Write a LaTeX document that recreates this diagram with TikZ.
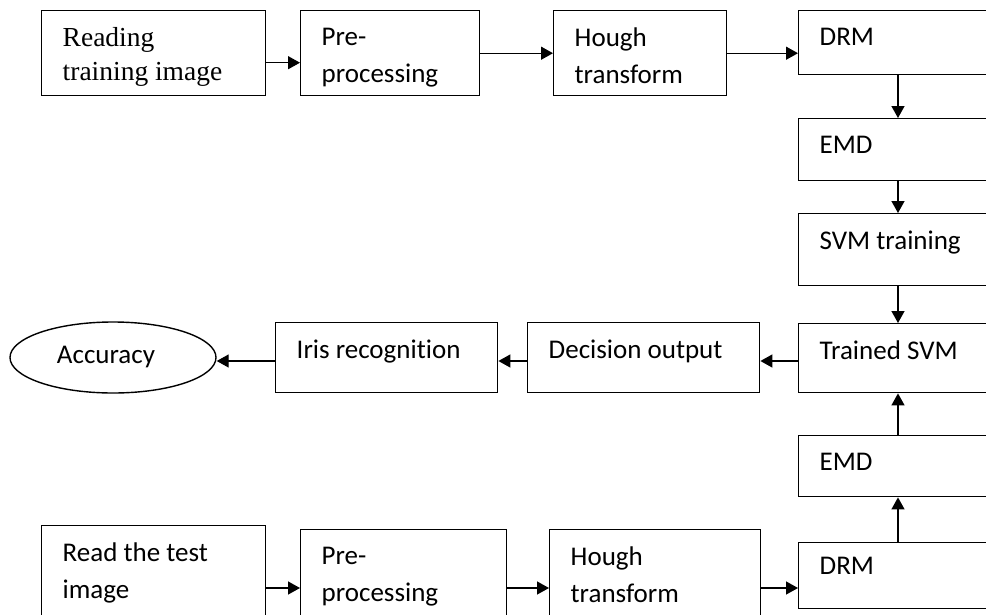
\documentclass[tikz,border=0pt]{standalone}
\usepackage{fontspec}
\setmainfont{Carlito}[Ligatures = NoCommon]
\newfontfamily\serifrm{Liberation Serif}
\usetikzlibrary{arrows.meta,shapes.geometric}
\newcommand{\boxtxt}[4][17pt]{\parbox[t][#3][t]{#2}{\raggedright\leftskip=21pt\vspace*{#1}#4}}
\begin{document}
\begin{tikzpicture}[x = 1pt, y = -1pt, line width = 1.4pt, > = {Triangle[length = 12pt, width = 13pt]}, blk/.style = { draw, anchor = north west, inner sep = 0pt, font = \fontsize{27}{37}\selectfont }]
	\path[use as bounding box, clip] (0,0) rectangle (986,614);
	\node[blk, font = \serifrm\fontsize{27.5}{34}\selectfont] (read1) at (41,10) {\boxtxt{224pt}{85pt}{Reading\\training image}};
	\node[blk] (pre1) at (300,10) {\boxtxt{179pt}{85pt}{Pre-\\processing}};
	\node[blk] (hough1) at (553,10) {\boxtxt{173pt}{85pt}{Hough\\transform}};
	\node[blk] (drm1) at (798,10) {\boxtxt{200pt}{64pt}{DRM}};
	\node[blk] (emd1) at (798,118) {\boxtxt{200pt}{62pt}{EMD}};
	\node[blk] (svmtr) at (798,213) {\boxtxt{200pt}{72pt}{SVM training}};
	\node[blk] (trsvm) at (798,323) {\boxtxt{200pt}{69pt}{Trained SVM}};
	\node[blk] (emd2) at (798,435) {\boxtxt{200pt}{61pt}{EMD}};
	\node[blk] (drm2) at (798,542) {\boxtxt[14pt]{200pt}{66pt}{DRM}};
	\node[blk] (dec) at (527,322) {\boxtxt{232pt}{70pt}{Decision output}};
	\node[blk] (iris) at (275,322) {\boxtxt{222pt}{70pt}{Iris recognition}};
	\node[draw, ellipse, minimum width = 206pt, minimum height = 71pt, inner sep = 0pt, font = \fontsize{27}{37}\selectfont] (acc) at (113,357.5) {Accuracy\hspace*{14pt}};
	\node[blk] (read2) at (41,525) {\boxtxt{224pt}{110pt}{Read the test\\image}};
	\node[blk] (pre2) at (300,529) {\boxtxt{206pt}{110pt}{Pre-\\processing}};
	\node[blk] (hough2) at (549,529) {\boxtxt{211pt}{110pt}{Hough\\transform}};
	\coordinate (colx) at (898,0);
	\coordinate (midrow) at (0,361);
	\coordinate (lowrow) at (0,588);
	\draw[->] ([yshift = -9.5pt]read1.east) -- ([yshift = -9.5pt]read1.east -| pre1.west);
	\draw[->] (pre1) to (hough1);
	\draw[->] (hough1.east) -- (hough1.east -| drm1.west);
	\draw[->] (drm1.south -| colx) -- (emd1.north -| colx);
	\draw[->] (emd1.south -| colx) -- (svmtr.north -| colx);
	\draw[->] (svmtr.south -| colx) -- (trsvm.north -| colx);
	\draw[->] (emd2.north -| colx) -- (trsvm.south -| colx);
	\draw[->] (drm2.north -| colx) -- (emd2.south -| colx);
	\draw[->] (trsvm.west |- midrow) -- (dec.east |- midrow);
	\draw[->] (dec.west |- midrow) -- (iris.east |- midrow);
	\draw[->] (iris.west |- midrow) -- ([yshift = -3.5pt]acc.east);
	\draw[->] (read2.east |- lowrow) -- (pre2.west |- lowrow);
	\draw[->] (pre2.east |- lowrow) -- (hough2.west |- lowrow);
	\draw[->] (hough2.east |- lowrow) -- (drm2.west |- lowrow);
\end{tikzpicture}
\end{document}
